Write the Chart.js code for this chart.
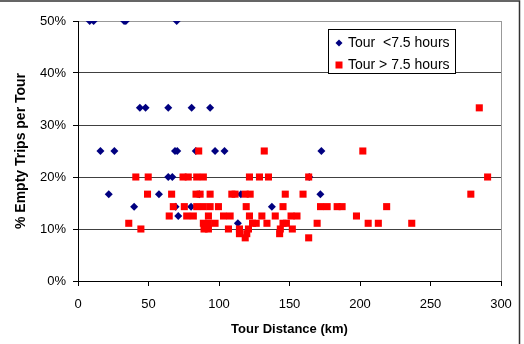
<!DOCTYPE html>
<html>
<head>
<meta charset="utf-8">
<script src="https://cdn.jsdelivr.net/npm/chart.js@4/dist/chart.umd.min.js"></script>
<style>
  body { margin: 0; background: #fff; }
  canvas { display: block; }
</style>
</head>
<body>
<canvas id="chart" width="524" height="344"></canvas>
<script>
// Tour < 7.5 hours (blue diamonds)
var shortLabel = 'Tour  <7.5 hours';
var shortDist = [8.3, 11.1, 32.7, 33.9, 70,
  43.9, 47.9, 64, 80.6, 93.7,
  15.9, 25.8, 68.8, 70.4, 83.5, 97.2, 103.9, 172.6,
  64, 66.9, 164,
  21.8, 57.4, 86.1, 115.5, 171.9,
  39.8, 69.2, 80.2, 137.5,
  71.1,
  113.4];
var shortPct = [50, 50, 50, 50, 50,
  33.3, 33.3, 33.3, 33.3, 33.3,
  25, 25, 25, 25, 25, 25, 25, 25,
  20, 20, 20,
  16.7, 16.7, 16.7, 16.7, 16.7,
  14.3, 14.3, 14.3, 14.3,
  12.5,
  11.1];

// Tour > 7.5 hours (red squares)
var longLabel = 'Tour > 7.5 hours';
var longDist = [284.6,
  85.6, 132.1, 202,
  41, 49.8, 74.5, 78.2, 84.2, 88.9, 121.6, 128.7, 135.1, 163.6, 290.5,
  49.3, 66.4, 83.7, 86.6, 93.7, 109.1, 111.4, 118.6, 122.1, 147, 159.6, 278.6,
  67.6, 75.4, 84.2, 88.9, 93.7, 99.6, 119.3, 145.4, 172, 176.7, 183.8, 187.3, 218.9,
  64.7, 77.1, 81.8, 92.5, 103.2, 107.9, 121.6, 130.4, 139.9, 151.1, 155.3, 197.5,
  36, 88.9, 92.5, 97.2, 123.8, 126.4, 134, 145.4, 147.8, 169.6, 205.8, 213, 236.7,
  44.6, 89.4, 92.5, 106.7, 114.5, 120.9, 143.5, 152,
  114.5, 119.7, 143,
  118.6, 163.6];
var longPct = [33.3,
  25, 25, 25,
  20, 20, 20, 20, 20, 20, 20, 20, 20, 20, 20,
  16.7, 16.7, 16.7, 16.7, 16.7, 16.7, 16.7, 16.7, 16.7, 16.7, 16.7, 16.7,
  14.3, 14.3, 14.3, 14.3, 14.3, 14.3, 14.3, 14.3, 14.3, 14.3, 14.3, 14.3, 14.3,
  12.5, 12.5, 12.5, 12.5, 12.5, 12.5, 12.5, 12.5, 12.5, 12.5, 12.5, 12.5,
  11.1, 11.1, 11.1, 11.1, 11.1, 11.1, 11.1, 11.1, 11.1, 11.1, 11.1, 11.1, 11.1,
  10, 10, 10, 10, 10, 10, 10, 10,
  9.1, 9.1, 9.1,
  8.3, 8.3];

var xTitle = 'Tour Distance (km)';
var yTitle = '% Empty Trips per Tour';

var FONT = "'Liberation Sans', Arial, sans-serif";

function pairs(xs, ys) {
  return xs.map(function (x, i) { return { x: x, y: ys[i] }; });
}

// legend box inside the plot + outer frame
var boxLegend = {
  id: 'boxLegend',
  afterDraw: function (chart) {
    var c = chart.ctx;
    c.save();
    // outer frame (top and right edges)
    c.strokeStyle = '#333';
    c.lineWidth = 1.5;
    c.beginPath();
    c.moveTo(0, 1);
    c.lineTo(519.5, 1);
    c.lineTo(519.5, 344);
    c.stroke();

    var bx = 328.5, by = 29.5, bw = 127, bh = 44;
    c.fillStyle = '#fff';
    c.fillRect(bx, by, bw, bh);
    c.strokeStyle = '#000';
    c.lineWidth = 1;
    c.strokeRect(bx, by, bw, bh);

    c.font = '14px ' + FONT;
    c.textBaseline = 'middle';
    c.fillStyle = '#000';
    c.fillText(shortLabel, 348, 43);
    c.fillText(longLabel, 348, 65);

    // diamond
    c.fillStyle = '#000080';
    c.beginPath();
    c.moveTo(339, 39.5);
    c.lineTo(342.5, 43);
    c.lineTo(339, 46.5);
    c.lineTo(335.5, 43);
    c.closePath();
    c.fill();
    // square
    c.fillStyle = '#ff0000';
    c.fillRect(335.5, 61.5, 7, 7);
    c.restore();
  }
};

var ctx = document.getElementById('chart').getContext('2d');

var myChart = new Chart(ctx, {
  type: 'scatter',
  data: {
    datasets: [{
      label: shortLabel,
      data: pairs(shortDist, shortPct),
      pointStyle: 'rectRot',
      pointRadius: 4,
      pointHoverRadius: 4,
      backgroundColor: '#000080',
      borderColor: '#000080',
      borderWidth: 0,
      order: 2
    }, {
      label: longLabel,
      data: pairs(longDist, longPct),
      pointStyle: 'rect',
      pointRadius: 5,
      pointHoverRadius: 5,
      backgroundColor: '#ff0000',
      borderColor: '#ff0000',
      borderWidth: 0,
      order: 1
    }]
  },
  options: {
    responsive: false,
    animation: false,
    layout: { padding: { left: 0, top: 21, right: 23, bottom: 0 } },
    plugins: {
      legend: { display: false },
      tooltip: { enabled: false }
    },
    scales: {
      x: {
        type: 'linear',
        min: 0,
        max: 300,
        afterFit: function (s) { s.height = 63; },
        ticks: {
          stepSize: 50,
          color: '#000',
          padding: 11,
          font: { family: FONT, size: 13 }
        },
        grid: {
          drawOnChartArea: true,
          color: function (c) { return c.tick && c.tick.value === 300 ? '#999' : 'rgba(0,0,0,0)'; },
          tickColor: '#000',
          tickLength: 5
        },
        border: { color: '#000', width: 1 },
        title: {
          display: true,
          text: xTitle,
          color: '#000',
          font: { family: FONT, size: 13, weight: 'bold' },
          padding: { top: 0, bottom: 7 }
        }
      },
      y: {
        min: 0,
        max: 50,
        afterFit: function (s) { s.width = 78; },
        ticks: {
          stepSize: 10,
          color: '#000',
          padding: 7,
          font: { family: FONT, size: 13 },
          callback: function (v) { return v + '%'; }
        },
        grid: {
          color: function (c) { return c.tick && c.tick.value === 50 ? '#999' : '#404040'; },
          tickColor: '#000',
          tickLength: 5
        },
        border: { color: '#000', width: 1 },
        title: {
          display: true,
          text: yTitle,
          color: '#000',
          font: { family: FONT, size: 14, weight: 'bold' },
          padding: { top: 13, bottom: 0 }
        }
      }
    }
  },
  plugins: [boxLegend]
});
</script>
</body>
</html>
